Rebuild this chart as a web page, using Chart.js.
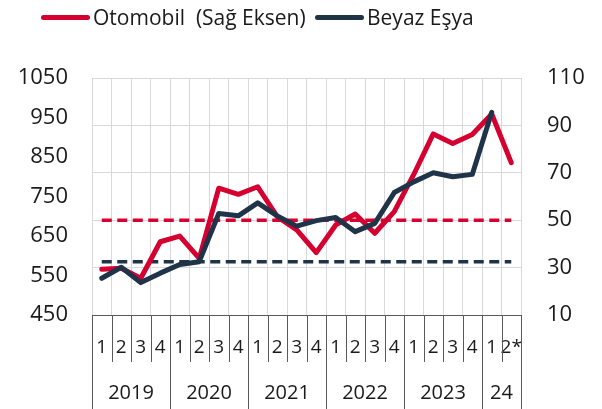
<!DOCTYPE html>
<html>
<head>
<meta charset="utf-8">
<script src="https://cdn.jsdelivr.net/npm/chart.js@4/dist/chart.umd.min.js"></script>
<style>
  html, body { margin: 0; padding: 0; background: #ffffff; }
  #wrap { position: relative; width: 602px; height: 409px; }
  #c { position: absolute; left: 0; top: 0; }
  .item { position: absolute; top: 0; height: 34px; display: flex; align-items: center;
          font-family: 'Open Sans', sans-serif; font-size: 21px; color: #1a1a1a; white-space: pre; }
  .swatch { display: inline-block; width: 49px; height: 5px; border-radius: 3px; margin-right: 3px; }
</style>
</head>
<body>
<div id="wrap">
  <canvas id="c" width="602" height="409"></canvas>
  <div class="item" style="left:41px"><span class="swatch" style="background:#d5002f"></span><span id="l1"></span></div>
  <div class="item" style="left:315px"><span class="swatch" style="background:#1f3349"></span><span id="l2"></span></div>
</div>
<script>
// ---- data ----
const quarterLabels = ['1','2','3','4','1','2','3','4','1','2','3','4','1','2','3','4','1','2','3','4','1','2*'];
const yearLabels = ['2019','2020','2021','2022','2023','24'];
const yearCounts = [4, 4, 4, 4, 4, 2];
const seriesNames = ['Otomobil  (Sağ Eksen)', 'Beyaz Eşya'];
const otomobil = [29.3, 29.7, 25.5, 40.9, 43.3, 33.9, 63.5, 60.9, 64.1, 51.5, 45.9, 36.3, 48.0, 52.6, 44.5, 53.6, 69.3, 86.4, 82.4, 86.2, 94.8, 74.3];
const beyazEsya = [543, 571, 532, 556, 578, 585, 707, 701, 734, 701, 675, 689, 697, 661, 682, 760, 787, 810, 800, 806, 963, null];
const otomobilAvg = 50;
const beyazEsyaAvg = 585;
const leftTicks = { min: 450, max: 1050, step: 100 };
const rightTicks = { min: 10, max: 110, step: 20 };

const RED = '#d5002f';
const NAVY = '#1f3349';
const TXT = '#1a1a1a';
const FONT = "'Open Sans', sans-serif";

document.getElementById('l1').textContent = seriesNames[0];
document.getElementById('l2').textContent = seriesNames[1];

const xBoxPlugin = {
  id: 'xBox',
  afterDraw(chart) {
    const x = chart.scales.x;
    const area = chart.chartArea;
    const ctx = chart.ctx;
    const n = quarterLabels.length;
    const bounds = [];
    for (let i = 0; i <= n; i++) {
      if (i === 0) bounds.push(area.left);
      else if (i === n) bounds.push(area.right);
      else bounds.push((x.getPixelForValue(i - 1) + x.getPixelForValue(i)) / 2);
    }
    const yearBounds = new Set([0]);
    let acc = 0;
    yearCounts.forEach(c => { acc += c; yearBounds.add(acc); });
    ctx.save();
    ctx.strokeStyle = '#595959';
    ctx.lineWidth = 1;
    const shortEnd = area.bottom + 47;
    const longEnd = chart.height;
    bounds.forEach((bx, i) => {
      const px = Math.round(bx) + 0.5;
      ctx.beginPath();
      ctx.moveTo(px, area.bottom);
      ctx.lineTo(px, yearBounds.has(i) ? longEnd : shortEnd);
      ctx.stroke();
    });
    ctx.fillStyle = TXT;
    ctx.font = '20px ' + FONT;
    ctx.textAlign = 'center';
    ctx.textBaseline = 'middle';
    let start = 0;
    yearLabels.forEach((lab, k) => {
      const end = start + yearCounts[k];
      const cx = (bounds[start] + bounds[end]) / 2;
      ctx.fillText(lab, cx, area.bottom + 78);
      start = end;
    });
    ctx.restore();
  }
};

new Chart(document.getElementById('c'), {
  type: 'line',
  data: {
    labels: quarterLabels,
    datasets: [
      {
        label: seriesNames[1], data: beyazEsya, yAxisID: 'yL',
        borderColor: NAVY, backgroundColor: NAVY, borderWidth: 5,
        pointRadius: 0, tension: 0, borderCapStyle: 'round', borderJoinStyle: 'round', order: 1
      },
      {
        label: seriesNames[0], data: otomobil, yAxisID: 'yR',
        borderColor: RED, backgroundColor: RED, borderWidth: 5,
        pointRadius: 0, tension: 0, borderCapStyle: 'round', borderJoinStyle: 'round', order: 2
      },
      {
        label: 'avgR', data: quarterLabels.map(() => otomobilAvg), yAxisID: 'yR',
        borderColor: RED, borderWidth: 3.5, borderDash: [10, 5.5],
        pointRadius: 0, tension: 0, order: 3
      },
      {
        label: 'avgL', data: quarterLabels.map(() => beyazEsyaAvg), yAxisID: 'yL',
        borderColor: NAVY, borderWidth: 3.5, borderDash: [10, 5.5],
        pointRadius: 0, tension: 0, order: 4
      }
    ]
  },
  options: {
    responsive: false,
    animation: false,
    devicePixelRatio: 1,
    layout: { padding: { top: 78, left: 0, right: 0, bottom: 0 } },
    plugins: { legend: { display: false }, tooltip: { enabled: false } },
    scales: {
      x: {
        type: 'category', offset: true,
        grid: { display: true, offset: true, color: '#d9d9d9', lineWidth: 1, drawTicks: false },
        border: { display: true, color: '#595959', width: 1 },
        ticks: { autoSkip: false, maxRotation: 0, minRotation: 0, padding: 21, color: TXT, font: { family: FONT, size: 19 } },
        afterFit(s) { s.height = 94; }
      },
      yL: {
        type: 'linear', position: 'left', min: leftTicks.min, max: leftTicks.max,
        grid: { display: false, drawTicks: false },
        border: { display: false },
        ticks: { stepSize: leftTicks.step, padding: 24, color: TXT, font: { family: FONT, size: 22 },
                 callback: v => String(v) },
        afterFit(s) { s.width = 92; }
      },
      yR: {
        type: 'linear', position: 'right', min: rightTicks.min, max: rightTicks.max,
        grid: { display: true, color: '#d9d9d9', lineWidth: 1, drawTicks: false },
        border: { display: false },
        ticks: { stepSize: rightTicks.step, padding: 26, color: TXT, font: { family: FONT, size: 22 },
                 callback: v => String(v) },
        afterFit(s) { s.width = 81; }
      }
    }
  },
  plugins: [xBoxPlugin]
});
</script>
</body>
</html>
